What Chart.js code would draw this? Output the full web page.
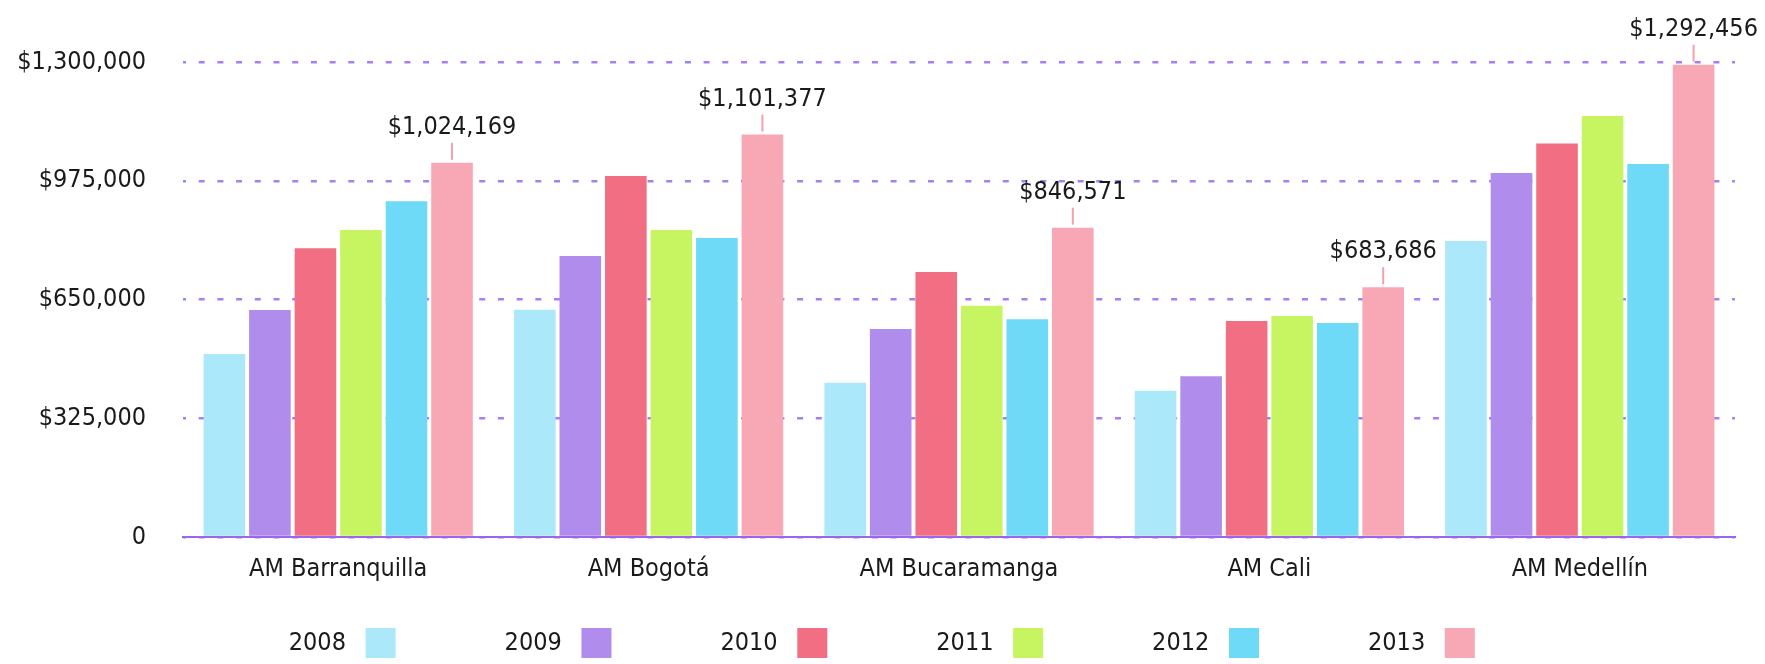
<!DOCTYPE html>
<html lang="es">
<head>
<meta charset="UTF-8">
<title>Áreas metropolitanas 2008-2013</title>
<script src="https://cdn.jsdelivr.net/npm/chart.js@4.4.0/dist/chart.umd.min.js"></script>
<style>
    html, body { margin: 0; padding: 0; background: #fff; }
    canvas { display: block; }
</style>
</head>
<body>
<canvas id="graficoAM" width="1765" height="664"></canvas>
<script>
const ciudades = ["AM Barranquilla", "AM Bogotá", "AM Bucaramanga", "AM Cali", "AM Medellín"];
const anios = ["2008", "2009", "2010", "2011", "2012", "2013"];
const valores2008 = [501000, 622000, 422000, 400000, 810000];
const valores2009 = [621000, 769000, 569000, 440000, 996000];
const valores2010 = [790000, 988000, 725000, 591000, 1077000];
const valores2011 = [840000, 840000, 633000, 605000, 1152000];
const valores2012 = [919000, 818000, 596000, 586000, 1021000];
const valores2013 = [1024169, 1101377, 846571, 683686, 1292456];
const colores = ["#aae8fa", "#b08cec", "#f26f83", "#c7f562", "#6fd9f8", "#f8a8b4"];
const marcasY = [0, 325000, 650000, 975000, 1300000];

const series = [valores2008, valores2009, valores2010, valores2011, valores2012, valores2013];
const fuente = "'DejaVu Sans Condensed', 'DejaVu Sans', sans-serif";

function dinero(v) {
    return v === 0 ? "0" : "$" + v.toLocaleString("en-US");
}

// etiqueta con linea solo para la ultima serie (2013)
const etiquetas2013 = {
    id: "etiquetas2013",
    afterDatasetsDraw(chart) {
        const ctx = chart.ctx;
        const meta = chart.getDatasetMeta(series.length - 1);
        ctx.save();
        ctx.font = "25px " + fuente;
        ctx.textAlign = "center";
        ctx.textBaseline = "alphabetic";
        meta.data.forEach((bar, i) => {
            ctx.strokeStyle = "#f4a0ad";
            ctx.lineWidth = 2;
            ctx.beginPath();
            ctx.moveTo(bar.x, bar.y - 3);
            ctx.lineTo(bar.x, bar.y - 20);
            ctx.stroke();
            ctx.fillStyle = "#1a1a1a";
            ctx.fillText(dinero(valores2013[i]), bar.x, bar.y - 29);
        });
        ctx.restore();
    }
};

const config = {
    type: "bar",
    data: {
        labels: ciudades,
        datasets: anios.map((anio, i) => ({
            label: anio,
            data: series[i],
            backgroundColor: colores[i],
            borderWidth: 0,
            categoryPercentage: 0.88,
            barPercentage: 0.914
        }))
    },
    options: {
        responsive: false,
        animation: false,
        devicePixelRatio: 1,
        layout: { padding: { top: 62, right: 30, bottom: -4, left: 0 } },
        scales: {
            x: {
                grid: { display: false, drawTicks: false },
                border: { display: true, color: "#9b65ee", width: 2 },
                ticks: { color: "#1a1a1a", font: { family: fuente, size: 25 }, padding: 17 },
                afterFit(scale) { scale.height = 82; }
            },
            y: {
                min: 0,
                max: 1300000,
                afterBuildTicks(scale) {
                    scale.ticks = marcasY.map(v => ({ value: v }));
                },
                grid: { color: "#a77ff0", lineWidth: 2.5, drawTicks: false },
                border: { display: false, dash: [6, 12.7], dashOffset: 3 },
                ticks: {
                    color: "#1a1a1a",
                    font: { family: fuente, size: 25 },
                    padding: 37,
                    callback: v => dinero(v)
                },
                afterFit(scale) { scale.width = 183; }
            }
        },
        plugins: {
            tooltip: { enabled: false },
            legend: {
                position: "bottom",
                rtl: true,
                reverse: true,
                labels: {
                    color: "#1a1a1a",
                    font: { family: fuente, size: 25 },
                    boxWidth: 30,
                    boxHeight: 30,
                    padding: 9,
                    generateLabels(chart) {
                        const items = Chart.defaults.plugins.legend.labels.generateLabels(chart);
                        items.forEach(it => {
                            it.lineWidth = 0;
                            it.text = " ".repeat(it.datasetIndex > 0 ? 14 : 4) + it.text + " ";
                        });
                        return items;
                    }
                }
            }
        }
    },
    plugins: [etiquetas2013]
};

new Chart(document.getElementById("graficoAM").getContext("2d"), config);
</script>
</body>
</html>
